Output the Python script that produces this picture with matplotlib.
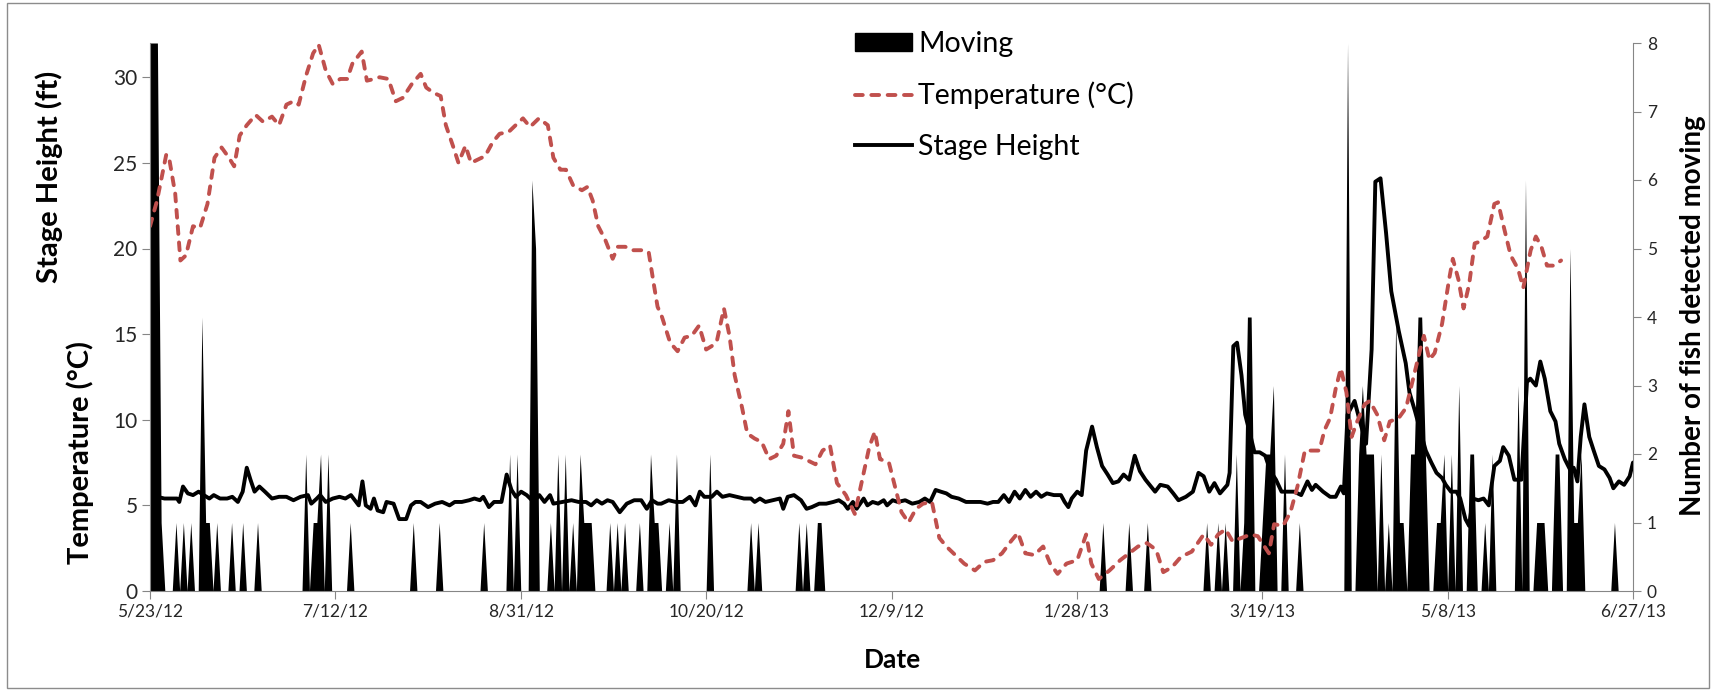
import numpy as np
import pandas as pd
import matplotlib
matplotlib.use("Agg")
from matplotlib import pyplot as plt
from matplotlib.patches import Patch, Rectangle
from matplotlib.lines import Line2D

# data, x in days after 5/23/12
start = pd.Timestamp("2012-05-23")
n_days = 400
tick_days = [0, 50, 100, 150, 200, 250, 300, 350, 400]

temp_days = [
    0, 1.9, 4.4, 5.3, 6.8, 8.2, 9.7, 11.6, 13.5, 15.5,
    17.4, 19.3, 21.3, 22.7, 24.2, 26.1, 28.5, 30.5, 32.9, 34.8,
    36.8, 38.7, 40.1, 42.1, 44.0, 45.5, 47.4, 49.3, 51.3, 53.2,
    54.6, 57.1, 58.5, 60.5, 61.9, 64.3, 66.3, 68.2, 70.6, 73.0,
    74.5, 76.4, 78.4, 79.8, 81.7, 83.2, 85.1, 86.6, 88.5, 90.4,
    92.4, 94.3, 96.7, 99.1, 100.6, 102.5, 104.9, 107.3, 108.8, 110.7,
    112.2, 114.1, 116.5, 118.0, 119.4, 120.9, 122.8, 124.8, 126.2, 128.2,
    130.1, 132.5, 134.5, 135.9, 136.9, 138.1, 140.3, 142.3, 144.2, 146.1,
    148.1, 150.0, 151.5, 152.9, 154.8, 156.3, 157.7, 159.7, 161.1, 163.1,
    165.0, 167.0, 168.9, 170.8, 172.2, 173.7, 175.6, 177.6, 179.5, 181.4,
    183.4, 185.3, 187.7, 190.1, 192.1, 194.0, 195.5, 196.9, 199.3, 201.3,
    202.7, 204.6, 206.6, 208.5, 210.9, 212.9, 214.8, 217.2, 219.6, 222.5,
    225.0, 227.4, 229.8, 232.2, 234.1, 236.1, 238.5, 240.9, 242.8, 244.8,
    247.2, 250.1, 252.5, 253.9, 255.9, 258.8, 261.7, 264.1, 266.5, 268.9,
    271.4, 273.3, 275.7, 278.1, 281.0, 284.2, 286.2, 288.1, 290.1, 292.0,
    294.4, 296.9, 298.8, 300.3, 301.8, 303.2, 305.6, 307.6, 309.5, 311.5,
    313.4, 315.4, 316.8, 318.3, 319.8, 321.2, 322.7, 324.1, 325.6, 327.6,
    329.0, 331.0, 332.9, 334.4, 336.8, 338.8, 340.7, 342.6, 343.6, 345.1,
    346.5, 348.5, 350.4, 351.4, 352.9, 354.3, 355.8, 357.3, 358.7, 360.7,
    362.6, 363.6, 365.1, 367.0, 369.0, 370.4, 372.4, 373.8, 375.3, 376.8,
    378.7, 380.6,
]
temp_vals = [
    21.3, 22.8, 25.5, 25.1, 23.2, 19.3, 19.6, 21.3, 21.2, 22.6,
    25.3, 25.9, 25.3, 24.8, 26.6, 27.2, 27.8, 27.4, 27.7, 27.2,
    28.4, 28.6, 28.4, 30.1, 31.4, 31.9, 30.4, 29.6, 29.9, 29.9,
    30.8, 31.5, 29.8, 29.9, 30.0, 29.9, 28.6, 28.8, 29.6, 30.2,
    29.4, 29.1, 28.9, 27.2, 26.0, 25.0, 26.0, 25.0, 25.2, 25.4,
    26.2, 26.7, 26.8, 27.3, 27.6, 27.1, 27.6, 27.2, 25.3, 24.6,
    24.6, 23.7, 23.4, 23.6, 22.8, 21.3, 20.5, 19.4, 20.1, 20.1,
    19.9, 19.9, 19.8, 17.9, 16.6, 16.0, 14.5, 14.0, 14.8, 14.9,
    15.5, 14.1, 14.3, 14.6, 16.5, 14.9, 12.6, 10.7, 9.2, 8.9,
    8.7, 7.7, 7.9, 8.6, 10.5, 7.9, 7.8, 7.6, 7.4, 8.2,
    8.5, 6.3, 5.6, 4.5, 6.5, 8.4, 9.3, 7.7, 7.5, 5.8,
    4.6, 4.0, 4.8, 5.1, 5.2, 3.1, 2.6, 2.1, 1.6, 1.2,
    1.7, 1.8, 2.2, 2.9, 3.4, 2.2, 2.1, 2.6, 1.6, 1.0,
    1.6, 1.8, 3.3, 1.6, 0.7, 1.2, 1.8, 2.2, 2.6, 2.8,
    2.4, 1.1, 1.4, 2.0, 2.3, 3.3, 2.7, 3.3, 3.6, 2.9,
    3.1, 3.3, 3.2, 2.7, 2.2, 3.9, 3.8, 4.6, 6.1, 8.2,
    8.2, 8.2, 9.4, 10.1, 11.8, 13.0, 11.6, 9.0, 9.9, 10.9,
    11.1, 10.3, 8.8, 9.9, 10.1, 10.7, 12.4, 14.1, 14.9, 13.5,
    13.9, 15.6, 18.2, 19.4, 18.2, 16.5, 17.9, 20.3, 20.4, 20.7,
    22.6, 22.7, 21.3, 19.6, 18.8, 17.7, 19.9, 20.7, 20.1, 19.0,
    19.0, 19.3,
]

stage_days = [
    0, 1.9, 3.9, 5.8, 7.3, 7.9, 8.9, 10.2, 11.6, 13.1,
    14.5, 16.0, 17.2, 18.9, 20.8, 22.2, 23.7, 25.0, 26.1, 27.1,
    28.2, 29.5, 31.0, 32.9, 34.8, 36.8, 38.7, 40.6, 42.6, 43.5,
    45.0, 45.9, 47.4, 49.3, 51.1, 52.7, 54.2, 55.6, 56.3, 57.3,
    58.2, 59.5, 60.4, 61.4, 62.9, 63.8, 65.7, 67.2, 69.1, 70.4,
    71.6, 73.0, 75.0, 76.9, 78.8, 80.8, 82.2, 84.1, 86.1, 87.5,
    89.0, 89.9, 91.4, 92.8, 94.8, 96.2, 97.5, 98.7, 100.1, 101.6,
    103.5, 105.0, 106.4, 107.9, 108.8, 111.3, 113.7, 115.6, 117.6, 119.0,
    120.5, 121.9, 123.4, 124.8, 126.7, 128.6, 130.6, 132.5, 134.0, 135.4,
    136.9, 137.9, 139.9, 141.8, 143.7, 145.6, 147.1, 148.3, 149.5, 151.5,
    152.9, 154.4, 156.3, 158.2, 160.2, 162.1, 163.1, 164.5, 166.0, 168.0,
    169.9, 170.8, 172.0, 173.7, 175.6, 177.1, 178.5, 180.5, 182.4, 184.3,
    185.8, 187.2, 188.2, 189.6, 190.6, 192.5, 193.5, 194.9, 196.4, 197.9,
    198.8, 200.3, 201.7, 203.7, 205.6, 207.5, 209.0, 210.4, 211.9, 213.3,
    214.8, 216.2, 218.1, 220.1, 222.0, 224.0, 225.9, 227.4, 228.8, 230.3,
    231.7, 233.2, 234.6, 236.1, 237.5, 239.0, 240.4, 241.9, 243.8, 245.7,
    246.7, 247.7, 248.6, 250.1, 251.3, 252.5, 254.1, 255.4, 256.8, 258.3,
    259.7, 261.2, 262.6, 264.1, 265.6, 267.0, 268.5, 271.1, 272.5, 274.5,
    276.0, 277.4, 279.4, 281.3, 282.8, 284.2, 285.7, 287.1, 288.6, 290.6,
    291.2, 292.2, 293.2, 294.4, 295.4, 296.9, 297.9, 299.3, 300.8, 302.2,
    303.7, 305.2, 306.6, 308.6, 310.5, 312.2, 313.4, 314.4, 316.4, 318.3,
    319.8, 321.2, 322.0, 323.0, 324.9, 326.1, 328.0, 329.5, 330.5, 331.9,
    333.4, 334.8, 336.8, 338.7, 339.7, 341.2, 342.6, 344.1, 345.6, 347.0,
    348.5, 349.5, 350.9, 352.4, 353.4, 354.8, 355.8, 356.8, 358.3, 359.7,
    361.1, 362.6, 364.1, 365.0, 366.5, 368.0, 369.9, 371.4, 372.3, 373.8,
    375.0, 376.2, 377.7, 379.1, 380.1, 381.6, 383.0, 384.0, 385.0, 385.9,
    386.9, 388.2, 389.4, 390.8, 392.3, 393.7, 394.7, 396.2, 397.6, 399.1,
    400.0,
]
stage_vals = [
    5.7, 5.5, 5.4, 5.4, 5.4, 5.2, 6.1, 5.7, 5.6, 5.8,
    5.6, 5.4, 5.6, 5.4, 5.4, 5.5, 5.2, 5.8, 7.2, 6.5,
    5.8, 6.1, 5.8, 5.4, 5.5, 5.5, 5.3, 5.5, 5.6, 5.1,
    5.4, 5.6, 5.2, 5.4, 5.5, 5.4, 5.6, 5.2, 5.0, 6.4,
    5.0, 4.8, 5.4, 4.7, 4.6, 5.2, 5.1, 4.2, 4.2, 5.0,
    5.2, 5.2, 4.9, 5.1, 5.2, 5.0, 5.2, 5.2, 5.3, 5.4,
    5.3, 5.5, 4.9, 5.2, 5.2, 6.8, 5.9, 5.5, 5.8, 5.6,
    5.2, 5.6, 5.2, 5.6, 5.1, 5.2, 5.3, 5.2, 5.2, 5.0,
    5.3, 5.1, 5.3, 5.2, 4.6, 5.1, 5.3, 5.3, 4.8, 5.3,
    5.1, 5.1, 5.3, 5.2, 5.2, 5.5, 5.0, 5.8, 5.5, 5.5,
    5.8, 5.5, 5.6, 5.5, 5.4, 5.4, 5.2, 5.4, 5.2, 5.3,
    5.4, 4.8, 5.5, 5.6, 5.3, 4.8, 4.9, 5.1, 5.1, 5.2,
    5.3, 5.1, 4.8, 5.2, 4.8, 5.4, 5.0, 5.2, 5.1, 5.3,
    5.0, 5.3, 5.2, 5.3, 5.1, 5.2, 5.4, 5.2, 5.9, 5.8,
    5.7, 5.5, 5.4, 5.2, 5.2, 5.2, 5.1, 5.2, 5.2, 5.6,
    5.2, 5.8, 5.4, 5.9, 5.5, 5.8, 5.5, 5.7, 5.6, 5.6,
    5.2, 4.9, 5.4, 5.8, 5.6, 8.2, 9.6, 8.4, 7.3, 6.8,
    6.3, 6.4, 6.8, 6.5, 7.9, 7.0, 6.5, 5.8, 6.2, 6.1,
    5.7, 5.3, 5.5, 5.8, 6.9, 6.7, 5.8, 6.3, 5.7, 6.2,
    6.9, 14.3, 14.5, 12.6, 10.3, 9.0, 8.1, 8.1, 7.9, 7.0,
    6.5, 5.8, 5.8, 5.8, 5.6, 6.4, 5.9, 6.2, 5.8, 5.5,
    5.5, 6.1, 5.7, 10.3, 11.1, 10.1, 8.6, 14.1, 23.9, 24.1,
    20.9, 17.5, 15.2, 13.3, 11.6, 10.5, 9.4, 8.2, 7.5, 6.9,
    6.6, 6.2, 5.8, 5.8, 5.4, 4.2, 3.8, 5.4, 5.3, 5.4,
    5.0, 7.3, 7.6, 8.4, 7.9, 6.5, 6.5, 12.2, 12.4, 12.0,
    13.4, 12.4, 10.5, 9.9, 8.6, 7.7, 7.1, 7.2, 6.4, 9.0,
    10.9, 9.0, 8.2, 7.3, 7.1, 6.6, 6.0, 6.4, 6.2, 6.7,
    7.5,
]

# fish detected moving: day index -> count (all other days are 0)
move_days = [
    0, 1, 2, 3, 7, 9, 11, 14, 15, 16, 18, 22, 25, 29,
    42, 44, 45, 46, 48, 54, 71, 78, 90, 97, 99,
    103, 104, 108, 110, 112, 114, 116, 117, 118, 119,
    124, 126, 128, 132, 135, 136, 137, 140, 142,
    151, 162, 164, 175, 177, 180, 181,
    257, 264, 269, 285, 288, 290,
    293, 295, 296, 297, 300, 301, 302, 303, 306, 310,
    323, 326, 327, 328, 329, 330, 332, 334, 336, 337, 338,
    340, 341, 342, 343, 344, 347, 348, 349, 351, 353, 356, 357, 360, 362,
    369, 371, 374, 375, 376, 379, 380, 383, 384, 385, 386, 395,
]
move_counts = [
    8, 8, 8, 1, 1, 1, 1, 4, 1, 1, 1, 1, 1, 1,
    2, 1, 1, 2, 2, 1, 1, 1, 1, 2, 2,
    6, 5, 1, 2, 2, 1, 2, 1, 1, 1,
    1, 1, 1, 1, 2, 1, 1, 1, 2,
    2, 1, 1, 1, 1, 1, 1,
    1, 1, 1, 1, 1, 1,
    2, 1, 4, 4, 1, 2, 2, 3, 2, 1,
    8, 2, 3, 2, 2, 2, 2, 1, 4, 1, 1,
    2, 2, 4, 4, 2, 1, 1, 2, 2, 3, 2, 2, 1, 2,
    3, 6, 1, 1, 1, 2, 2, 5, 1, 1, 2, 1,
]


def to_dates(days):
    return start + pd.to_timedelta(np.asarray(days, dtype=float), unit="D")


moving = np.zeros(n_days + 1)
moving[move_days] = move_counts

plt.rcParams["font.family"] = ["Lato", "DejaVu Sans"]
grey = "#868686"
txt = "#262626"
red = "#C0504D"
temp_dash = (0, (2.0, 2.2))

fig = plt.figure(figsize=(17.16, 6.91), dpi=100)
ax = fig.add_axes([150 / 1716, 1 - 591 / 691, 1483 / 1716, 548 / 691])
ax2 = ax.twinx()
ax.set_zorder(ax2.get_zorder() + 1)
ax.patch.set_visible(False)

ax2.fill_between(to_dates(np.arange(n_days + 1)), moving, 0,
                 color="black", lw=0)
ax.plot(to_dates(stage_days), stage_vals, color="black", lw=2.8,
        solid_joinstyle="round", solid_capstyle="round")
ax.plot(to_dates(temp_days), temp_vals, color=red, lw=2.8,
        linestyle=temp_dash, dash_capstyle="round")

ax.set_xlim(to_dates([0])[0], to_dates([n_days])[0])
ax.set_ylim(0, 32)
ax2.set_ylim(0, 8)
ax.set_yticks([0, 5, 10, 15, 20, 25, 30])
ax2.set_yticks(range(0, 9))

tick_dates = to_dates(tick_days)
ax.set_xticks(tick_dates)
ax.set_xticklabels([f"{d.month}/{d.day}/{d.year % 100:02d}" for d in tick_dates])

for a in (ax, ax2):
    for s in a.spines.values():
        s.set_color(grey)
    a.spines["top"].set_visible(False)
ax.spines["right"].set_visible(False)
ax2.spines["left"].set_visible(False)
ax2.spines["bottom"].set_visible(False)

ax.tick_params(axis="y", direction="out", length=6, color=grey,
               labelsize=15, labelcolor=txt, pad=3)
ax.tick_params(axis="x", direction="out", length=6, color=grey,
               labelsize=12.5, labelcolor=txt, pad=3)
ax2.tick_params(axis="y", direction="out", length=6, color=grey,
                labelsize=12.5, labelcolor=txt, pad=4)

fig.text(49 / 1716, 1 - 177 / 691, "Stage Height (ft)", rotation=90,
         ha="center", va="center", fontsize=21, fontweight="bold")
fig.text(80 / 1716, 1 - 452 / 691, "Temperature (°C)", rotation=90,
         ha="center", va="center", fontsize=21, fontweight="bold")
fig.text(1693 / 1716, 1 - 316 / 691, "Number of fish detected moving",
         rotation=90, ha="center", va="center", fontsize=20, fontweight="bold")
fig.text(892 / 1716, 1 - 660 / 691, "Date", ha="center", va="center",
         fontsize=19, fontweight="bold")

handles = [
    Patch(facecolor="black", edgecolor="black"),
    Line2D([], [], color=red, lw=2.8, linestyle=temp_dash,
           dash_capstyle="round"),
    Line2D([], [], color="black", lw=2.8),
]
ax.legend(handles, ["Moving", "Temperature (°C)", "Stage Height"],
          loc="upper left", bbox_to_anchor=(855 / 1716, 1 - 31 / 691),
          bbox_transform=fig.transFigure, frameon=False, fontsize=20.5,
          handlelength=2.0, handleheight=0.55, handletextpad=0.22,
          labelspacing=0.86, borderpad=0, borderaxespad=0)

fig.patches.append(Rectangle((0.004, 0.005), 0.992, 0.99, fill=False,
                             ec="#8c8c8c", lw=1, transform=fig.transFigure))

fig.savefig("out.png", dpi=100)
